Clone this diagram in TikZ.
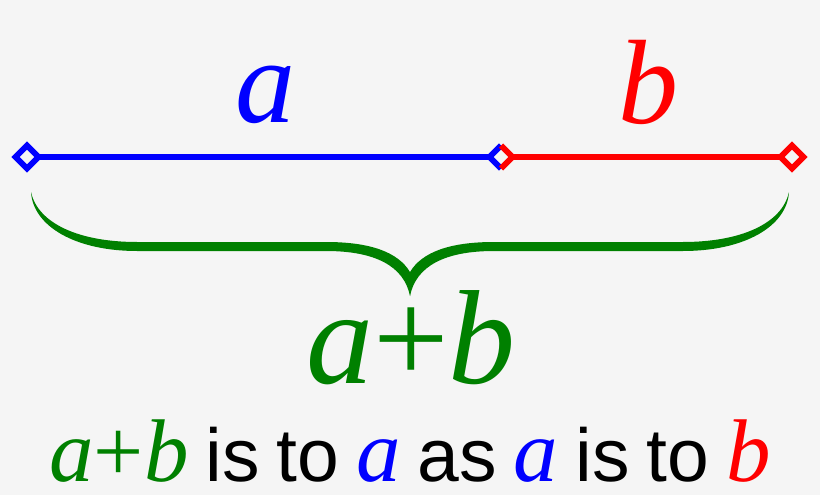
\documentclass[tikz,border=0pt]{standalone}
\usepackage{fontspec}
\setmainfont{Liberation Serif}
\newfontfamily\sansfam{Liberation Sans}
\definecolor{bg}{HTML}{F5F5F5}
\definecolor{gr}{RGB}{0,128,0}
\definecolor{bl}{RGB}{0,0,255}
\definecolor{rd}{RGB}{255,0,0}
\newcommand{\itv}[1]{{\fontsize{89}{89}\selectfont\rmfamily\itshape #1}}
\newcommand{\capfont}{\fontsize{75}{75}\selectfont\sansfam\spaceskip=17pt\relax}
\tikzset{
  seg/.style={line width=6pt},
  dia/.style={line width=6pt, line join=miter},
  biglbl/.style={inner sep=0pt, anchor=base, font=\fontsize{120}{120}\selectfont\itshape},
  sumlbl/.style={inner sep=0pt, anchor=base, font=\fontsize{134}{134}\selectfont},
  caption/.style={inner sep=0pt, anchor=base, text depth=0pt, font=\capfont}
}
\begin{document}
\begin{tikzpicture}[x=1pt,y=-1pt]
\fill[bg] (0,0) rectangle (820,495);
\useasboundingbox (0,0) rectangle (820,495);
% diamond centres
\coordinate (L) at (27,157);
\coordinate (M) at (501,157);
\coordinate (R) at (792,157);
\def\h{11.5}
% segments
\draw[seg,bl] ([xshift=\h pt]L) -- ([xshift=-\h pt]M);
\draw[seg,rd] ([xshift=\h pt]M) -- ([xshift=-\h pt]R);
% diamonds
\draw[dia,bl] ([xshift=-\h pt]L) -- ([yshift=-\h pt]L) -- ([xshift=\h pt]L) -- ([yshift=\h pt]L) -- cycle;
\draw[dia,rd] ([xshift=-\h pt]R) -- ([yshift=-\h pt]R) -- ([xshift=\h pt]R) -- ([yshift=\h pt]R) -- cycle;
\draw[dia,bl] ([yshift=-\h pt]M) -- ([xshift=-\h pt]M) -- ([yshift=\h pt]M);
\draw[dia,rd] ([yshift=-\h pt]M) -- ([xshift=\h pt]M) -- ([yshift=\h pt]M);
% labels
\node[biglbl,bl] (la) at (265,122) {a};
\node[biglbl,rd] (lb) at (648,123) {b};
% brace
\foreach \s in {1,-1}{
\begin{scope}[shift={(410,0)},xscale=\s]
\fill[gr] (-379,192) .. controls (-377,226) and (-335,251) .. (-273,251) -- (-84,251)
  .. controls (-35,251) and (-6,266) .. (0,296) -- (0,272)
  .. controls (-12,252) and (-40,242) .. (-84,242) -- (-273,242)
  .. controls (-330,242) and (-372,224) .. cycle;
\end{scope}}
\node[sumlbl,gr] (sum) at (411,383) {\textit{a}+\textit{b}};
\node[caption] (cap) at (410,481) {\textcolor{gr}{\itv{a}{\fontsize{89}{89}\selectfont\rmfamily+}\itv{b}} is to \textcolor{bl}{\itv{a}} as \textcolor{bl}{\itv{a}} is to \textcolor{rd}{\itv{b}}};
\end{tikzpicture}
\end{document}
